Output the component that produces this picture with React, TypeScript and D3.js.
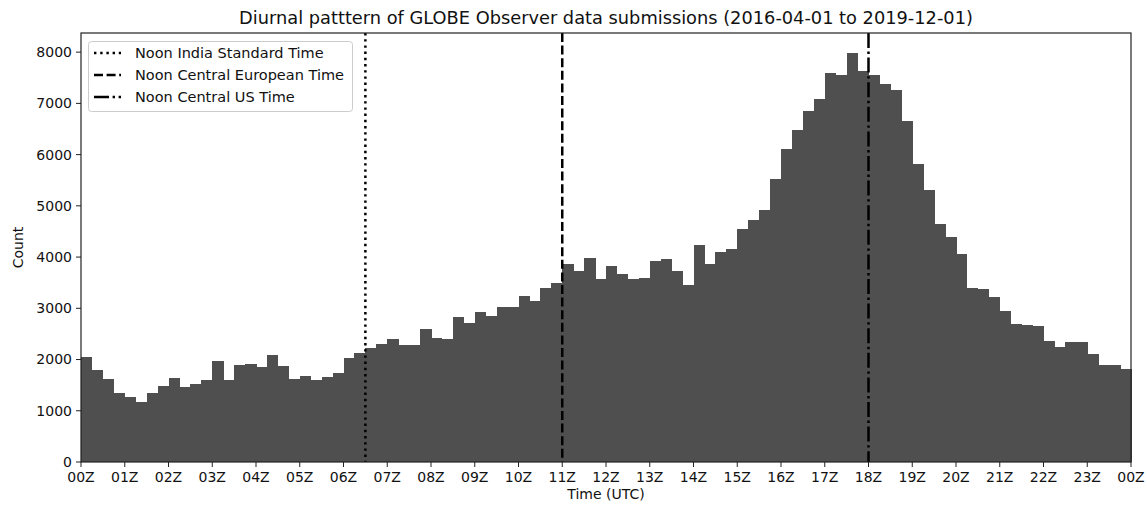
import React from "react";
import * as d3 from "d3";

// 96 fifteen-minute bins, 00Z..24Z
const counts: number[] = [
  2058, 1798, 1622, 1355, 1277, 1173, 1342, 1479, 1648, 1459, 1518, 1596,
  1968, 1603, 1890, 1915, 1857, 2085, 1876, 1622, 1681, 1603, 1655, 1746,
  2027, 2125, 2222, 2300, 2398, 2287, 2287, 2600, 2430, 2398, 2828, 2704,
  2919, 2854, 3030, 3030, 3232, 3147, 3401, 3493, 3864, 3720, 3974, 3577,
  3831, 3661, 3577, 3597, 3926, 3962, 3720, 3460, 4242, 3864, 4099, 4157,
  4554, 4730, 4925, 5526, 6112, 6483, 6855, 7076, 7598, 7552, 7975, 7629,
  7545, 7383, 7258, 6652, 5819, 5303, 4646, 4385, 4066, 3401, 3376, 3225,
  2938, 2691, 2670, 2645, 2371, 2254, 2346, 2346, 2105, 1902, 1902, 1824,
];
const hourTicks: number[] = d3.range(0, 25);
const hourLabels: string[] = hourTicks.map((h) => `${String(h % 24).padStart(2, "0")}Z`);
const yTicks: number[] = [0, 1000, 2000, 3000, 4000, 5000, 6000, 7000, 8000];
const noonLines = [
  { label: "Noon India Standard Time", hour: 6.5, dash: "2.4 3.8" },
  { label: "Noon Central European Time", hour: 11, dash: "9 3.6" },
  { label: "Noon Central US Time", hour: 18, dash: "15 3.6 2.4 3.6" },
];
const title = "Diurnal patttern of GLOBE Observer data submissions (2016-04-01 to 2019-12-01)";

export default function App() {
  const W = 1147, H = 510;
  const m = { left: 81, right: 1131, top: 33, bottom: 462 };
  const x = d3.scaleLinear().domain([0, 24]).range([m.left, m.right]);
  const yMax = d3.max(counts)! * 1.05;
  const y = d3.scaleLinear().domain([0, yMax]).range([m.bottom, m.top]);
  const binW = 24 / counts.length;
  const font = "DejaVu Sans, sans-serif";
  const barColor = "#4f4f4f";
  const fs = 14;

  return (
    <svg width={W} height={H} style={{ position: "absolute", left: 0, top: 0, background: "#fff" }} fontFamily={font}>
      <rect x={0} y={0} width={W} height={H} fill="#fff" />
      <g shapeRendering="crispEdges">
        {counts.map((c, i) => (
          <rect key={i} x={x(i * binW)} y={y(c)} width={x((i + 1) * binW) - x(i * binW) + 0.5} height={y(0) - y(c)} fill={barColor} />
        ))}
      </g>
      {noonLines.map((l, i) => (
        <line key={i} x1={x(l.hour)} x2={x(l.hour)} y1={m.top} y2={m.bottom} stroke="#000" strokeWidth={2.5} strokeDasharray={l.dash} />
      ))}
      {/* frame */}
      <rect x={m.left} y={m.top} width={m.right - m.left} height={m.bottom - m.top} fill="none" stroke="#222" strokeWidth={1.2} />
      {/* y ticks */}
      {yTicks.map((t) => (
        <g key={t}>
          <line x1={m.left - 5} x2={m.left} y1={y(t)} y2={y(t)} stroke="#222" strokeWidth={1} />
          <text x={m.left - 9} y={y(t)} dy="0.35em" textAnchor="end" fontSize={fs} fill="#111">{t}</text>
        </g>
      ))}
      {/* x ticks */}
      {hourTicks.map((h, i) => (
        <g key={h}>
          <line x1={x(h)} x2={x(h)} y1={m.bottom} y2={m.bottom + 5} stroke="#222" strokeWidth={1} />
          <text x={x(h)} y={m.bottom + 20} textAnchor="middle" fontSize={fs} fill="#111">{hourLabels[i]}</text>
        </g>
      ))}
      <text x={(m.left + m.right) / 2} y={499} textAnchor="middle" fontSize={fs} fill="#111">Time (UTC)</text>
      <text transform={`translate(23,${(m.top + m.bottom) / 2}) rotate(-90)`} textAnchor="middle" fontSize={fs} fill="#111">Count</text>
      <text x={(m.left + m.right) / 2} y={24} textAnchor="middle" fontSize={17.8} fill="#111">{title}</text>
      {/* legend */}
      <rect x={88.5} y={41.5} width={264} height={70} rx={3} fill="#fff" fillOpacity={0.85} stroke="#ccc" strokeWidth={1} />
      {noonLines.map((l, i) => (
        <g key={i}>
          <line x1={94} x2={121} y1={53 + i * 22} y2={53 + i * 22} stroke="#000" strokeWidth={2.5} strokeDasharray={l.dash} />
          <text x={135} y={53 + i * 22} dy="0.35em" fontSize={14.5} fill="#111">{l.label}</text>
        </g>
      ))}
    </svg>
  );
}
